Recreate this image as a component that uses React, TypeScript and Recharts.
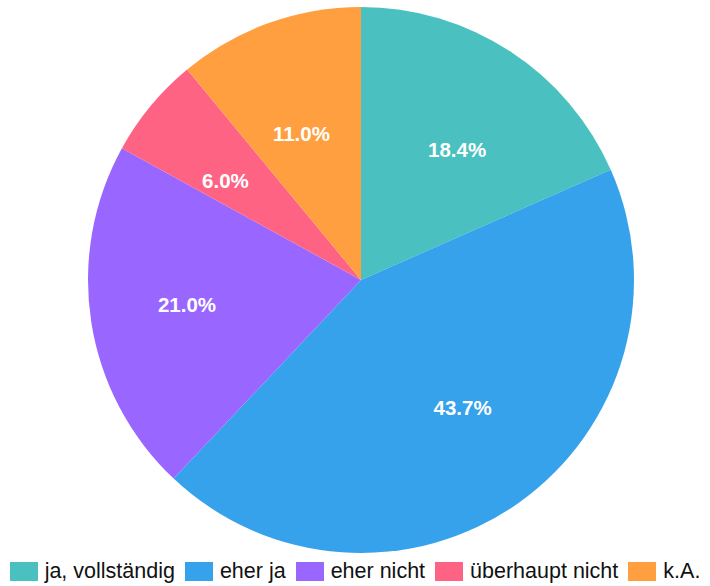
import * as React from "react";
import { PieChart, Pie, Cell, Legend } from "recharts";

const categories = ["ja, vollständig", "eher ja", "eher nicht", "überhaupt nicht", "k.A."];
const shares = [18.4, 43.7, 21.0, 6.0, 11.0];
const colors = ["#4BC0C0", "#36A2EB", "#9966FF", "#FF6384", "#FF9F40"];

const data = categories.map((name, i) => ({ name, value: shares[i] }));

const FONT = '"Liberation Sans", Arial, Helvetica, sans-serif';
const RAD = Math.PI / 180;

function renderLabel(props: any) {
  const { cx, cy, midAngle, outerRadius, value } = props;
  // labels sit a bit wider than tall, like the reference
  const x = cx + outerRadius * 0.645 * Math.cos(-midAngle * RAD);
  const y = cy + outerRadius * 0.57 * Math.sin(-midAngle * RAD);
  return (
    <text
      x={x}
      y={y}
      fill="#fff"
      textAnchor="middle"
      dominantBaseline="central"
      fontFamily={FONT}
      fontWeight="bold"
      fontSize={20.5}
    >
      {`${value.toFixed(1)}%`}
    </text>
  );
}

function renderLegend() {
  return (
    <div
      style={{
        display: "flex",
        justifyContent: "center",
        alignItems: "center",
        fontFamily: FONT,
        fontSize: 21.5,
        color: "#111",
        gap: 10,
      }}
    >
      {categories.map((c, i) => (
        <div key={c} style={{ display: "flex", alignItems: "center" }}>
          <span
            style={{
              display: "inline-block",
              width: 28,
              height: 19,
              background: colors[i],
              marginRight: 7,
            }}
          />
          <span>{c}</span>
        </div>
      ))}
    </div>
  );
}

export default function App() {
  return (
    <div style={{ position: "absolute", left: 0, top: 0, width: 710, height: 586, background: "#fff" }}>
      <PieChart width={710} height={586} margin={{ top: 0, right: 0, bottom: 0, left: 0 }}>
        <Pie
          data={data}
          dataKey="value"
          nameKey="name"
          cx={361}
          cy={280}
          outerRadius={273}
          startAngle={90}
          endAngle={-270}
          stroke="none"
          label={renderLabel}
          labelLine={false}
          isAnimationActive={false}
        >
          {data.map((d, i) => (
            <Cell key={d.name} fill={colors[i]} />
          ))}
        </Pie>
        <Legend
          content={renderLegend}
          verticalAlign="bottom"
          wrapperStyle={{ left: 0, width: 710, bottom: 2 }}
        />
      </PieChart>
    </div>
  );
}
